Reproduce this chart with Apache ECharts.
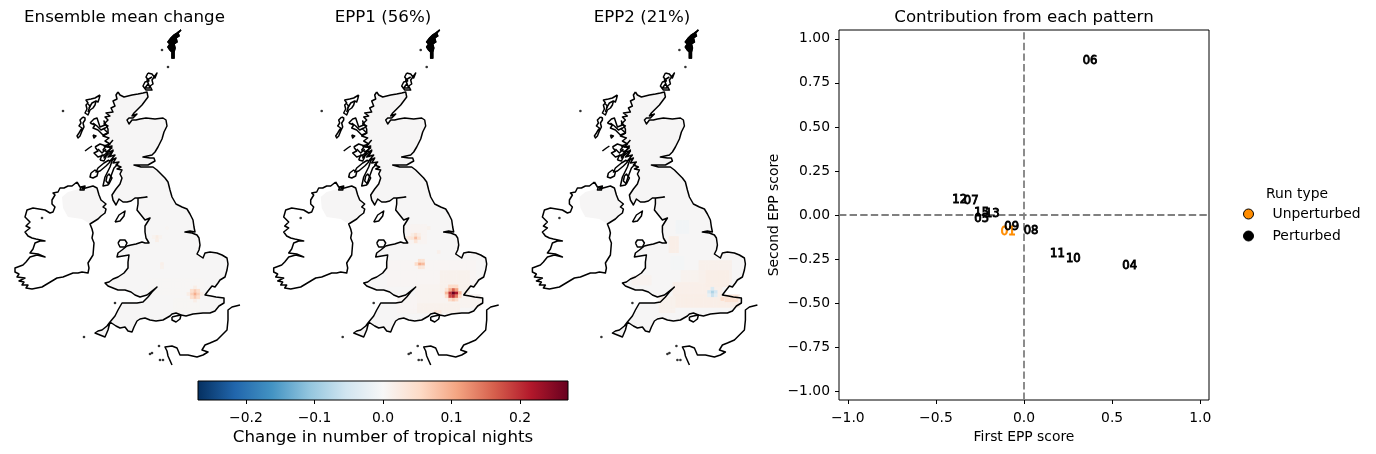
<!DOCTYPE html>
<html><head><meta charset="utf-8">
<style>html,body{margin:0;padding:0;background:#fff}#c{width:1376px;height:454px}</style>
<script src="https://cdn.jsdelivr.net/npm/echarts@6/dist/echarts.min.js"></script></head>
<body><div id="c"></div><script>
// ---- coastline rings in map units (y grows southward) ----
const greatBritain=[[118,92],[120,95],[124,97],[128,96],[132,95],[138,94],[143,93],[147,92],[148,97],[145,101],[142,105],[138,109],[134,113],[132,116],[137,114],[133,118],[129,118],[127,120],[129,124],[132,120],[136,120],[140,119],[146,118],[155,119],[163,118],[166,120],[167,126],[164,132],[162,139],[158,147],[155,152],[152,155],[143,157],[150,158],[154,158],[155,161],[148,165],[141,165],[134,165],[141,167],[147,167],[153,167],[157,170],[160,173],[165,178],[168,182],[170,190],[172,197],[176,204],[182,207],[187,209],[190,214],[193,220],[194,227],[195,232],[190,231],[185,232],[192,233],[197,235],[199,238],[200,245],[199,250],[197,254],[203,258],[205,253],[210,252],[217,253],[222,255],[227,258],[228,264],[227,270],[225,277],[220,280],[218,283],[215,287],[212,286],[208,291],[205,295],[211,296],[216,297],[224,298],[224,303],[219,306],[215,311],[210,313],[203,313],[193,314],[186,316],[181,315],[176,313],[172,314],[170,316],[163,320],[156,321],[150,320],[145,318],[140,319],[137,321],[134,327],[132,332],[128,331],[125,327],[120,328],[116,326],[110,322],[108,330],[105,337],[100,335],[95,333],[98,331],[102,330],[107,326],[110,322],[115,316],[118,310],[122,303],[130,303],[137,303],[143,302],[148,297],[152,292],[157,287],[152,291],[147,295],[140,297],[135,295],[131,292],[125,290],[118,290],[113,288],[108,286],[105,283],[109,282],[113,279],[118,277],[124,273],[128,268],[128,262],[129,255],[123,256],[117,257],[118,253],[122,250],[127,246],[131,245],[136,244],[142,242],[145,243],[149,243],[146,238],[145,232],[145,226],[150,218],[145,220],[141,215],[137,210],[138,204],[138,198],[147,197],[139,198],[135,198],[131,201],[127,202],[123,202],[119,199],[116,205],[113,200],[112,195],[116,189],[120,184],[122,178],[120,174],[122,170],[117,169],[121,167],[116,165],[119,162],[113,163],[116,158],[110,161],[115,155],[108,157],[113,151],[106,152],[112,148],[104,146],[110,144],[105,141],[109,138],[103,136],[108,133],[104,129],[108,126],[104,124],[108,120],[105,117],[110,116],[106,113],[113,112],[111,108],[115,106],[113,101],[117,99],[116,95],[118,92]];
const ireland=[[77,182],[80,187],[84,187],[82,189],[93,186],[97,188],[99,195],[101,200],[106,204],[103,207],[106,209],[105,213],[101,216],[98,219],[90,224],[92,229],[93,233],[92,238],[94,243],[93,255],[88,263],[89,268],[88,273],[82,272],[78,273],[73,273],[63,277],[57,278],[52,281],[42,287],[32,289],[26,288],[28,285],[22,285],[24,282],[19,281],[25,278],[17,277],[19,274],[15,272],[15,268],[23,265],[26,262],[30,257],[37,255],[45,257],[38,254],[30,253],[33,249],[35,243],[40,241],[45,241],[36,239],[32,238],[28,236],[25,232],[30,228],[26,226],[30,222],[25,217],[27,210],[33,208],[39,209],[45,210],[50,213],[53,212],[55,207],[52,204],[52,200],[55,195],[53,193],[58,192],[60,188],[64,188],[68,186],[72,186],[77,182]];
const northIreland=[[62,197],[63,208],[68,217],[82,219],[90,224],[100,218],[106,207],[101,200],[97,188],[82,188],[75,190],[68,192]];
const lough=[[81,187],[85,186],[84,190],[80,190],[81,187]];
const mull=[[95,147],[100,144],[106,146],[103,150],[108,152],[104,155],[98,157],[94,153],[98,151],[95,147]];
const skye=[[90,123],[94,119],[97,118],[99,124],[100,127],[105,125],[104,121],[108,129],[108,133],[103,135],[100,132],[98,130],[93,128],[95,125],[90,123]];
const skyeInner=[[93,123],[97,126],[101,130],[105,128]];
const lewis=[[100,95],[99,99],[98,102],[96,101],[95,105],[93,108],[90,110],[88,115],[85,113],[87,109],[86,105],[88,103],[86,100],[91,99],[95,98],[100,95]];
const lewisInner=[[89,108],[92,103],[96,101]];
const lewisInner2=[[88,112],[90,106],[88,104]];
const uist=[[83,117],[80,120],[81,123],[79,126],[82,128],[79,133],[77,136],[78,138],[80,136],[82,131],[84,127],[83,123],[85,120],[85,118],[83,117]];
const islay=[[91,173],[95,170],[98,172],[97,176],[93,178],[90,177],[91,173]];
const jura=[[109,160],[104,163],[98,168],[96,172],[100,171],[106,166],[110,162],[109,160]];
const kintyre=[[113,158],[110,167],[105,177],[103,186],[108,185],[111,176],[114,168],[118,164]];
const arran=[[107,176],[109,174],[112,178],[109,184],[106,181],[107,176]];
const coll=[[85,151],[89,148],[92,146]];
const colonsay=[[100,160],[102,155],[106,157],[104,161],[100,160]];
const raasay=[[93,135],[96,136],[94,138],[93,135]];
const lorn=[[113,140],[107,147],[112,146],[104,158],[113,150],[110,157]];
const mullInner=[[98,149],[102,153],[106,149]];
const man=[[115,222],[119,215],[125,211],[124,216],[120,221],[115,222]];
const anglesey=[[118,243],[120,240],[125,240],[127,243],[125,247],[120,247],[118,243]];
const wight=[[172,317],[176,316],[181,315],[180,319],[176,322],[172,320],[172,317]];
const orkney=[[148,73],[152,74],[155,78],[157,73],[152,80],[153,84],[150,86],[152,90],[146,90],[143,86],[145,82],[149,81],[146,77],[148,73]];
const orkneyInner=[[148,84],[145,88],[150,88],[147,80],[152,77]];
const shetland=[[181,30],[178,33],[179,36],[176,38],[177,42],[174,44],[175,48],[174,52],[174,58],[172,58],[172,52],[170,50],[168,47],[170,44],[168,42],[171,38],[174,35],[177,33],[181,30]];
const france=[[240,305],[232,307],[228,310],[228,320],[227,330],[222,335],[217,340],[210,343],[205,345],[202,350],[208,352],[203,355],[197,357],[188,355],[180,355],[177,348],[172,346],[165,347],[167,351],[168,356],[172,365]];
const smallIslands=[[63,111],[168,67],[162,50],[115,303],[84,337],[159,346],[152,353],[150,354],[160,360],[163,360],[42,218]];
const filledRings=[greatBritain,northIreland];
const outlineRings=[greatBritain,ireland,lough,mull,mullInner,skye,skyeInner,lewis,lewisInner,lewisInner2,uist,islay,jura,kintyre,arran,coll,colonsay,raasay,lorn,man,anglesey,wight,orkney,orkneyInner,shetland,france];

// ---- change fields: broad tint patches [x0,y0,x1,y1,value] and single cells [x,y,value] ----
const meanPatches=[[175,300,200,312,0.004],[150,280,205,296,0.003]];
const meanCells=[[195,294,0.1],[191.7,294,0.065],[198.3,294,0.065],[195,290.7,0.07],[195,297.3,0.07],[191.7,290.7,0.045],[198.3,290.7,0.045],[191.7,297.3,0.045],[198.3,297.3,0.045],[188.4,294,0.02],[201.6,294,0.02],[195,287.4,0.02],[195,300.6,0.02],[157,237,0.022],[157,240.3,0.018],[153.7,237,0.01],[160.3,237,0.01],[162,264,0.016],[162,267.3,0.012],[178,312,0.012],[167,228,0.006]];
const epp1Patches=[[130,262,218,286,0.005],[158,286,205,296,0.008],[158,296,222,306,0.008],[150,305,200,314,0.012],[183,272,212,292,0.012],[150,226,168,245,0.007],[140,298,158,312,0.005]];
const epp1Cells=[[194.5,293,0.27],[191.2,293,0.2],[197.8,293,0.22],[194.5,289.7,0.16],[194.5,296.3,0.2],[191.2,289.7,0.1],[197.8,289.7,0.11],[191.2,296.3,0.18],[197.8,296.3,0.14],[187.9,293,0.09],[201.1,293,0.09],[194.5,286.4,0.05],[191.2,286.4,0.05],[197.8,286.4,0.05],[194.5,299.6,0.07],[191.2,299.6,0.05],[197.8,299.6,0.05],[187.9,289.7,0.04],[187.9,296.3,0.05],[201.1,296.3,0.05],[161,264,0.1],[164.3,264,0.085],[157.7,264,0.05],[161,260.7,0.045],[164.3,260.7,0.04],[161,267.3,0.035],[164.3,267.3,0.03],[157,238,0.085],[157,234.7,0.04],[157,241.3,0.035],[153.7,238,0.035],[160.3,238,0.04],[153.7,234.7,0.02],[160.3,234.7,0.02],[150.4,238,0.03],[148,238,0.02],[170,228,0.012],[180,252,0.015],[177,312,0.04],[181,312,0.03]];
const epp2Patches=[[165,272,183,284,0.01],[157,284,205,296,0.016],[158,296,222,306,0.018],[183,262,215,284,0.013],[190,272,210,286,0.018],[153,238,160,252,0.018],[116,277,133,285,0.009],[143,298,157,312,0.012],[209,297,222,302,0.04],[160,222,170,232,-0.008],[155,258,165,270,-0.006]];
const epp2Cells=[[195,292,-0.085],[191.7,292,-0.045],[198.3,292,-0.05],[195,288.7,-0.04],[195,295.3,-0.06],[191.7,295.3,-0.02],[198.3,295.3,-0.03],[205,299,0.05]];

// ---- scatter of EPP scores ----
const unperturbedRuns=[["01",-0.09,-0.095]];
const perturbedRuns=[["04",0.60,-0.29],["05",-0.24,-0.02],["06",0.375,0.875],["07",-0.30,0.08],["08",0.04,-0.09],["09",-0.07,-0.07],["10",0.28,-0.25],["11",0.19,-0.22],["12",-0.365,0.085],["13",-0.18,0.005],["15",-0.24,0.01]];
const scoreTicks=[-1,-0.5,0,0.5,1];
const scoreTicksY=[-1,-0.75,-0.5,-0.25,0,0.25,0.5,0.75,1];
const colorbarTicks=[-0.2,-0.1,0,0.1,0.2];
const rdbu=['#053061','#2166ac','#4393c3','#92c5de','#d1e5f0','#f7f7f7','#fddbc7','#f4a582','#d6604d','#b2182b','#67001f'];
const titles=["Ensemble mean change","EPP1 (56%)","EPP2 (21%)","Contribution from each pattern"];

const F='"DejaVu Sans"',FS=13.89,FT=16.67,ink='#000';
const panelLeft=[0,258.7,517.4];
const expand=(ps,cs)=>{const out=[];const s=3.3;ps.forEach(p=>{for(let x=p[0];x<=p[2];x+=s)for(let y=p[1];y<=p[3];y+=s)out.push([x,y,p[4]]);});return out.concat(cs);};
const fields=[expand(meanPatches,meanCells),expand(epp1Patches,epp1Cells),expand(epp2Patches,epp2Cells)];
const fmt2=d=>v=>(v<0?'\u2212':'')+Math.abs(v).toFixed(d);

const grid=[],xAxis=[],yAxis=[],series=[];
panelLeft.forEach((l,i)=>{
  grid.push({left:l,top:0,width:258,height:454});
  xAxis.push({type:'value',gridIndex:i,min:0,max:258,show:false});
  yAxis.push({type:'value',gridIndex:i,min:0,max:454,inverse:true,show:false});
  series.push({type:'custom',xAxisIndex:i,yAxisIndex:i,silent:true,z:1,clip:false,data:filledRings.map((_,k)=>k),
    renderItem:(p,api)=>({type:'polygon',shape:{points:filledRings[api.value(0)].map(c=>api.coord(c))},style:{fill:'#f6f5f5',stroke:null}})});
  series.push({type:'scatter',xAxisIndex:i,yAxisIndex:i,silent:true,z:2,symbol:'rect',symbolSize:3.6,data:fields[i],itemStyle:{opacity:1}});
  series.push({type:'custom',xAxisIndex:i,yAxisIndex:i,silent:true,z:3,clip:false,data:outlineRings.map((_,k)=>k),
    renderItem:(p,api)=>({type:'polyline',shape:{points:outlineRings[api.value(0)].map(c=>api.coord(c))},style:{fill:null,stroke:'#000',lineWidth:1.5,lineJoin:'round'}})});
  series.push({type:'scatter',xAxisIndex:i,yAxisIndex:i,silent:true,z:3,symbol:'circle',symbolSize:2.6,data:smallIslands,itemStyle:{color:'#000'}});
  series.push({type:'custom',xAxisIndex:i,yAxisIndex:i,silent:true,z:3,data:[0],clip:false,
    renderItem:(p,api)=>({type:'polygon',shape:{points:shetland.map(c=>api.coord(c))},style:{fill:'#000',stroke:'#000',lineWidth:1.5}})});
});
// colorbar
grid.push({left:198,top:381,width:370,height:19,show:true,borderColor:'#000',borderWidth:1,backgroundColor:'transparent',z:5});
xAxis.push({type:'value',gridIndex:3,min:-0.27,max:0.27,position:'bottom',name:'Change in number of tropical nights',nameLocation:'middle',nameGap:29,
  nameTextStyle:{fontFamily:F,fontSize:FT,color:ink},axisLine:{show:false},splitLine:{show:false},
  axisTick:{show:true,length:4,customValues:colorbarTicks,lineStyle:{color:'#000',width:1}},
  axisLabel:{show:true,margin:11,fontFamily:F,fontSize:FS,color:ink,customValues:colorbarTicks,formatter:fmt2(1)}});
yAxis.push({type:'value',gridIndex:3,min:0,max:1,show:false});
const cbStops=rdbu.map((c,i)=>({offset:i/10,color:c}));
series.push({type:'custom',xAxisIndex:3,yAxisIndex:3,silent:true,z:1,data:[[-0.27,0.27]],
  renderItem:(p,api)=>{const a=api.coord([api.value(0),1]),b=api.coord([api.value(1),0]);
    return {type:'rect',shape:{x:a[0],y:a[1],width:b[0]-a[0],height:b[1]-a[1]},style:{fill:{type:'linear',x:0,y:0,x2:1,y2:0,colorStops:cbStops}}};}});
// scatter panel
grid.push({left:839,top:30,width:370,height:370,show:true,borderColor:'#000',borderWidth:1,backgroundColor:'transparent'});
const axisCommon={type:'value',gridIndex:4,min:-1.05,max:1.05,nameLocation:'middle',nameTextStyle:{fontFamily:F,fontSize:FS,color:ink},
  axisLine:{show:false,onZero:false},splitLine:{show:false}};
xAxis.push(Object.assign({},axisCommon,{name:'First EPP score',nameGap:30,position:'bottom',
  axisTick:{show:true,length:4,customValues:scoreTicks,lineStyle:{color:'#000'}},
  axisLabel:{margin:11,fontFamily:F,fontSize:FS,color:ink,customValues:scoreTicks,formatter:fmt2(1)}}));
yAxis.push(Object.assign({},axisCommon,{name:'Second EPP score',nameGap:58,position:'left',
  axisTick:{show:true,length:4,customValues:scoreTicksY,lineStyle:{color:'#000'}},
  axisLabel:{margin:9,fontFamily:F,fontSize:FS,color:ink,padding:[2,0,0,0],customValues:scoreTicksY,formatter:fmt2(2)}}));
const runSeries=(name,rows,color)=>({name,type:'scatter',xAxisIndex:4,yAxisIndex:4,silent:true,z:6,symbolSize:1,itemStyle:{color:'rgba(0,0,0,0)'},
  data:rows.map(r=>({name:r[0],value:[r[1],r[2]]})),labelLayout:{hideOverlap:false},
  label:{show:true,position:'inside',offset:[0,1],formatter:'{b}',fontFamily:F,fontSize:11.6,fontWeight:'normal',color:color,textBorderColor:color,textBorderWidth:0.9,opacity:1}});
series.push(runSeries('Unperturbed',unperturbedRuns,'#ff8c00'));
series.push(runSeries('Perturbed',perturbedRuns,'#000'));
series.push({type:'scatter',xAxisIndex:4,yAxisIndex:4,silent:true,symbolSize:0,data:[],z:2,
  markLine:{silent:true,symbol:'none',label:{show:false},animation:false,lineStyle:{color:'#808080',type:[7.4,3.2],width:1.8},data:[{xAxis:0},{yAxis:0}]}});

const chart=echarts.init(document.getElementById('c'),null,{renderer:'canvas'});
chart.setOption({animation:false,backgroundColor:'#fff',
  title:titles.map((t,i)=>({text:t,left:[119.5,378,637,1019][i],top:4,textAlign:'center',textStyle:{fontFamily:F,fontSize:FT,fontWeight:'normal',color:ink}})).concat([
    {text:'Run type',left:1261,top:182,textStyle:{fontFamily:F,fontSize:FS,fontWeight:'normal',color:ink}}]),
  grid,xAxis,yAxis,series,
  visualMap:[{show:false,type:'continuous',seriesIndex:[1,6,11],dimension:2,min:-0.27,max:0.27,inRange:{color:rdbu}}],
  legend:{orient:'vertical',left:1243,top:207,itemWidth:10,itemHeight:10,itemGap:8,padding:0,selectedMode:false,
    textStyle:{fontFamily:F,fontSize:FS,color:ink,padding:[0,0,0,14]},
    data:[{name:'Unperturbed',icon:'circle',itemStyle:{color:'#ff8c00',borderColor:'#000',borderWidth:1,opacity:1}},
          {name:'Perturbed',icon:'circle',itemStyle:{color:'#000',borderColor:'#000',borderWidth:1,opacity:1}}]}
});
</script></body></html>
